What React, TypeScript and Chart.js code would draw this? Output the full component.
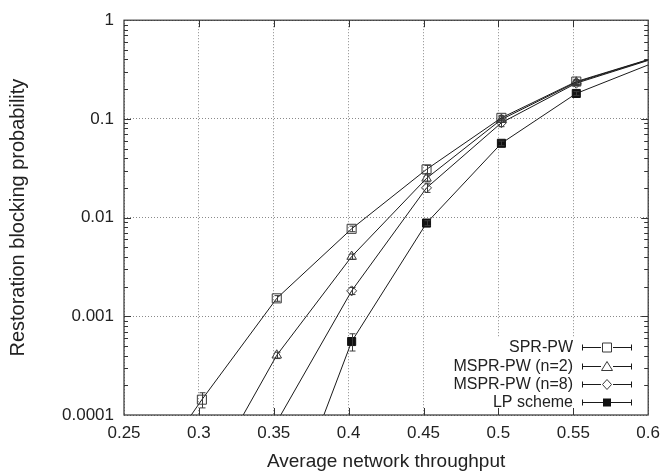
import React, { useEffect, useRef } from "react";
import { Chart, registerables } from "chart.js";

Chart.register(...registerables);

// ---- data ----
const xValues = [0.252, 0.302, 0.352, 0.402, 0.452, 0.502, 0.552, 0.602];
const sprPW = [1.15e-5, 1.43e-4, 1.52e-3, 7.7e-3, 0.0308, 0.1025, 0.239, 0.408];
const mspr2 = [null, 1.8e-5, 4.03e-4, 4.03e-3, 0.025, 0.0987, 0.235, 0.405];
const mspr8 = [null, null, 8.5e-5, 1.81e-3, 0.02, 0.0914, 0.23, 0.4];
const lpScheme = [null, null, 5.5e-6, 5.55e-4, 8.8e-3, 0.0566, 0.181, 0.362];

const sprErr = [0, 2.5e-5, 1e-4, 5e-4, 3e-3, 6e-3, 1.2e-2, 0];
const mspr2Err = [0, 0, 3e-5, 2.5e-4, 2e-3, 6e-3, 1.2e-2, 0];
const mspr8Err = [0, 0, 0, 1.5e-4, 2e-3, 8e-3, 1.2e-2, 0];
const lpErr = [0, 0, 0, 1.1e-4, 5e-4, 3e-3, 8e-3, 0];

// indices with visible markers
const sprVisible = [1, 2, 3, 4, 5, 6];
const mspr2Visible = [2, 3, 4, 5, 6];
const mspr8Visible = [3, 4, 5, 6];
const lpVisible = [3, 4, 5, 6];

const seriesLabels = ["SPR-PW", "MSPR-PW (n=2)", "MSPR-PW (n=8)", "LP scheme"];
const yTickValues = [1e-4, 1e-3, 1e-2, 1e-1, 1];
const xMin = 0.25;
const xMax = 0.6;
const xStep = 0.05;

const FONT = "'Liberation Sans', Arial, Helvetica, sans-serif";
const MARKER_COLOR = "#3a3a3a";
const LINE_COLOR = "#1a1a1a";

type MarkerKind = "square" | "triangle" | "diamond" | "filled";
const markerKinds: MarkerKind[] = ["square", "triangle", "diamond", "filled"];

function drawMarker(ctx: CanvasRenderingContext2D, kind: MarkerKind, x: number, y: number) {
  ctx.save();
  ctx.lineWidth = 1;
  ctx.strokeStyle = MARKER_COLOR;
  ctx.fillStyle = "#111";
  ctx.beginPath();
  if (kind === "square") {
    ctx.rect(x - 4.5, y - 4.5, 9, 9);
    ctx.stroke();
  } else if (kind === "triangle") {
    ctx.moveTo(x, y - 5);
    ctx.lineTo(x + 5.5, y + 4);
    ctx.lineTo(x - 5.5, y + 4);
    ctx.closePath();
    ctx.stroke();
  } else if (kind === "diamond") {
    ctx.moveTo(x, y - 5);
    ctx.lineTo(x + 4.5, y);
    ctx.lineTo(x, y + 5);
    ctx.lineTo(x - 4.5, y);
    ctx.closePath();
    ctx.stroke();
  } else {
    ctx.rect(x - 4, y - 4, 8, 8);
    ctx.fill();
  }
  ctx.restore();
}

const frameAndExtrasPlugin = {
  id: "frameAndExtras",
  beforeDatasetsDraw(chart: any) {
    const ctx = chart.ctx;
    ctx.save();
    ctx.fillStyle = "#ffffff";
    ctx.fillRect(438, 337, 207, 77);
    ctx.restore();
  },
  afterDatasetsDraw(chart: any) {
    const ctx: CanvasRenderingContext2D = chart.ctx;
    const area = chart.chartArea;
    const xs = chart.scales.x;
    const ys = chart.scales.y;
    const errs = [sprErr, mspr2Err, mspr8Err, lpErr];
    const vals = [sprPW, mspr2, mspr8, lpScheme];
    const vis = [sprVisible, mspr2Visible, mspr8Visible, lpVisible];

    // error bars
    ctx.save();
    ctx.beginPath();
    ctx.rect(area.left, area.top, area.right - area.left, area.bottom - area.top);
    ctx.clip();
    ctx.strokeStyle = MARKER_COLOR;
    ctx.lineWidth = 1;
    for (let s = 0; s < 4; s++) {
      for (const i of vis[s]) {
        const v = vals[s][i] as number;
        const e = errs[s][i];
        if (!e) continue;
        const px = Math.round(xs.getPixelForValue(xValues[i])) + 0.5;
        const y1 = ys.getPixelForValue(v + e);
        const y2 = ys.getPixelForValue(Math.max(v - e, 1e-9));
        ctx.beginPath();
        ctx.moveTo(px, y1);
        ctx.lineTo(px, y2);
        ctx.moveTo(px - 3, y1);
        ctx.lineTo(px + 3, y1);
        ctx.moveTo(px - 3, y2);
        ctx.lineTo(px + 3, y2);
        ctx.stroke();
      }
    }
    ctx.restore();

    // frame and inward ticks
    ctx.save();
    ctx.strokeStyle = "#333";
    ctx.lineWidth = 1.2;
    ctx.strokeRect(area.left, area.top, area.right - area.left, area.bottom - area.top);
    ctx.lineWidth = 1;
    ctx.beginPath();
    const nx = Math.round((xMax - xMin) / xStep);
    for (let k = 1; k < nx; k++) {
      const px = Math.round(xs.getPixelForValue(xMin + k * xStep)) + 0.5;
      ctx.moveTo(px, area.bottom);
      ctx.lineTo(px, area.bottom - 7);
      ctx.moveTo(px, area.top);
      ctx.lineTo(px, area.top + 7);
    }
    for (let d = 0; d < yTickValues.length; d++) {
      const base = yTickValues[d];
      const py = Math.round(ys.getPixelForValue(base)) + 0.5;
      if (d > 0 && d < yTickValues.length - 1) {
        ctx.moveTo(area.left, py);
        ctx.lineTo(area.left + 7, py);
        ctx.moveTo(area.right, py);
        ctx.lineTo(area.right - 7, py);
      }
      if (d < yTickValues.length - 1) {
        for (let m = 2; m <= 9; m++) {
          const my = Math.round(ys.getPixelForValue(base * m)) + 0.5;
          ctx.moveTo(area.left, my);
          ctx.lineTo(area.left + 4, my);
          ctx.moveTo(area.right, my);
          ctx.lineTo(area.right - 4, my);
        }
      }
    }
    ctx.stroke();
    ctx.restore();

    // legend
    ctx.save();
    ctx.font = `16px ${FONT}`;
    ctx.fillStyle = "#222";
    ctx.textAlign = "right";
    ctx.textBaseline = "middle";
    const rowY = [347, 365.5, 383.5, 401.5];
    for (let r = 0; r < 4; r++) {
      const y = rowY[r];
      ctx.fillText(seriesLabels[r], 573, y + 1);
      const yy = Math.round(y) + 0.5;
      ctx.strokeStyle = LINE_COLOR;
      ctx.lineWidth = 1;
      ctx.beginPath();
      ctx.moveTo(582, yy);
      ctx.lineTo(632, yy);
      ctx.moveTo(582.5, yy - 3);
      ctx.lineTo(582.5, yy + 3);
      ctx.moveTo(631.5, yy - 3);
      ctx.lineTo(631.5, yy + 3);
      ctx.stroke();
      if (markerKinds[r] !== "filled") {
        ctx.fillStyle = "#fff";
        ctx.fillRect(601, yy - 5, 12, 10);
        ctx.fillStyle = "#222";
      }
      drawMarker(ctx, markerKinds[r], 607, yy);
    }
    ctx.restore();
  },
};

function makeData(vals: (number | null)[]) {
  return xValues.map((x, i) => ({ x, y: vals[i] }));
}

function radii(visible: number[], r: number) {
  return xValues.map((_, i) => (visible.includes(i) ? r : 0));
}

export default function App() {
  const canvasRef = useRef<HTMLCanvasElement | null>(null);

  useEffect(() => {
    if (!canvasRef.current) return;
    const common = {
      borderColor: LINE_COLOR,
      borderWidth: 1,
      pointBorderColor: MARKER_COLOR,
      pointBorderWidth: 1,
      pointBackgroundColor: "rgba(0,0,0,0)",
      tension: 0,
      spanGaps: false,
      fill: false,
    };
    const chart = new Chart(canvasRef.current, {
      type: "line",
      data: {
        datasets: [
          { ...common, label: seriesLabels[0], data: makeData(sprPW), pointStyle: "rect", pointRadius: radii(sprVisible, 6.4) },
          { ...common, label: seriesLabels[1], data: makeData(mspr2), pointStyle: "triangle", pointRadius: radii(mspr2Visible, 5.5) },
          { ...common, label: seriesLabels[2], data: makeData(mspr8), pointStyle: "rectRot", pointRadius: radii(mspr8Visible, 5) },
          {
            ...common,
            label: seriesLabels[3],
            data: makeData(lpScheme),
            pointStyle: "rect",
            pointRadius: radii(lpVisible, 5.7),
            pointBackgroundColor: "#111",
            pointBorderColor: "#111",
          },
        ] as any,
      },
      options: {
        responsive: false,
        animation: false,
        events: [],
        layout: { padding: { top: 12, right: 15, left: 0, bottom: 0 } },
        plugins: { legend: { display: false }, tooltip: { enabled: false } },
        scales: {
          x: {
            type: "linear",
            min: xMin,
            max: xMax,
            afterFit: (scale: any) => {
              scale.height = 61;
            },
            ticks: {
              stepSize: xStep,
              padding: 8,
              color: "#222",
              font: { family: FONT, size: 17 },
              callback: (v: any) => String(Number(Number(v).toFixed(2))),
            },
            grid: { color: "#8a8a8a", lineWidth: 1, drawTicks: false, tickLength: 0 },
            border: { display: false, dash: [1, 2] },
            title: {
              display: true,
              text: "Average network throughput",
              color: "#222",
              font: { family: FONT, size: 19 },
              padding: { top: 0, bottom: 3 },
            },
          },
          y: {
            type: "logarithmic",
            min: 1e-4,
            max: 1,
            afterFit: (scale: any) => {
              scale.width = 124;
            },
            afterBuildTicks: (scale: any) => {
              scale.ticks = yTickValues.map((v) => ({ value: v }));
            },
            ticks: {
              padding: 10,
              color: "#222",
              font: { family: FONT, size: 17 },
              callback: (v: any) => String(v),
            },
            grid: { color: "#8a8a8a", lineWidth: 1, drawTicks: false, tickLength: 0 },
            border: { display: false, dash: [1, 2] },
            title: {
              display: true,
              text: "Restoration blocking probability",
              color: "#222",
              font: { family: FONT, size: 20 },
              padding: { top: 6, bottom: 0 },
            },
          },
        },
      },
      plugins: [frameAndExtrasPlugin],
    } as any);
    return () => chart.destroy();
  }, []);

  return (
    <div style={{ position: "absolute", left: 0, top: 0, width: 668, height: 476, background: "#fff" }}>
      <canvas ref={canvasRef} width={668} height={476} />
    </div>
  );
}
